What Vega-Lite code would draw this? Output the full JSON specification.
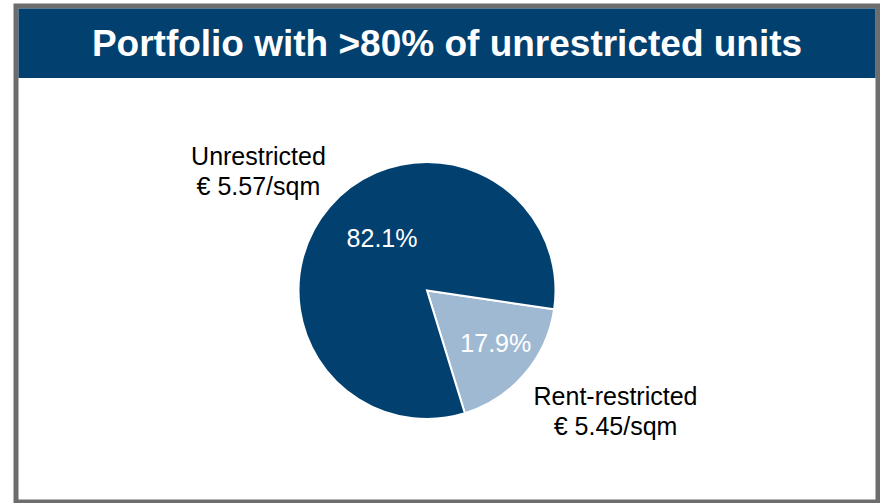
{
  "$schema": "https://vega.github.io/schema/vega-lite/v6.json",
  "width": 880,
  "height": 503,
  "autosize": {"type": "fit", "contains": "padding"},
  "padding": {"left": 16, "top": 6, "right": 2, "bottom": 1},
  "background": "white",
  "config": {
    "view": {"stroke": "#6d6d6d", "strokeWidth": 5},
    "font": "Liberation Sans"
  },
  "data": {
    "values": [
      {"segment": "Rent-restricted", "share": 0.179, "order": 1, "label": "Rent-restricted\n€ 5.45/sqm"},
      {"segment": "Unrestricted", "share": 0.821, "order": 2, "label": "Unrestricted\n€ 5.57/sqm"}
    ]
  },
  "layer": [
    {
      "data": {"values": [{}]},
      "mark": {"type": "rect", "color": "#01406f"},
      "encoding": {
        "x": {"value": 2.5},
        "x2": {"value": {"expr": "width - 2.5"}},
        "y": {"value": 2.5},
        "y2": {"value": 72}
      }
    },
    {
      "data": {"values": [{}]},
      "mark": {"type": "text", "fontSize": 37, "fontWeight": "bold", "color": "white", "align": "center", "baseline": "alphabetic", "font": "Liberation Sans"},
      "encoding": {
        "y": {"value": 50},
        "text": {"value": "Portfolio with >80% of unrestricted units"}
      }
    },
    {
      "mark": {"type": "arc", "outerRadius": 128.5, "stroke": "white", "strokeWidth": 2, "xOffset": -20, "yOffset": 36.5},
      "encoding": {
        "theta": {"field": "share", "type": "quantitative", "stack": true, "scale": {"range": [1.718, 8.001]}},
        "color": {"field": "segment", "type": "nominal", "scale": {"domain": ["Unrestricted", "Rent-restricted"], "range": ["#01406f", "#a0b9d3"]}, "legend": null},
        "order": {"field": "order", "type": "quantitative"}
      }
    },
    {
      "mark": {"type": "text", "radius": 68, "fontSize": 25, "color": "white", "align": "center", "baseline": "middle", "xOffset": -20, "yOffset": 36.5, "dx": 6.6, "dy": -7.5},
      "encoding": {
        "theta": {"field": "share", "type": "quantitative", "stack": true},
        "detail": {"field": "segment", "type": "nominal"},
        "order": {"field": "order", "type": "quantitative"},
        "text": {"condition": {"test": "datum.segment === 'Unrestricted'", "field": "share", "type": "quantitative", "format": ".1%"}, "value": ""}
      }
    },
    {
      "mark": {"type": "text", "radius": 87, "fontSize": 25, "color": "white", "align": "center", "baseline": "middle", "xOffset": -20, "yOffset": 36.5, "dx": 2.8, "dy": -3.5},
      "encoding": {
        "theta": {"field": "share", "type": "quantitative", "stack": true},
        "detail": {"field": "segment", "type": "nominal"},
        "order": {"field": "order", "type": "quantitative"},
        "text": {"condition": {"test": "datum.segment === 'Rent-restricted'", "field": "share", "type": "quantitative", "format": ".1%"}, "value": ""}
      }
    },
    {
      "mark": {"type": "text", "radius": 205, "fontSize": 25, "color": "black", "align": "center", "baseline": "middle", "lineBreak": "\n", "lineHeight": 30, "xOffset": -20, "yOffset": 36.5, "dx": -13, "dy": 0},
      "encoding": {
        "theta": {"field": "share", "type": "quantitative", "stack": true},
        "detail": {"field": "segment", "type": "nominal"},
        "order": {"field": "order", "type": "quantitative"},
        "text": {"condition": {"test": "datum.segment === 'Unrestricted'", "field": "label"}, "value": ""}
      }
    },
    {
      "mark": {"type": "text", "radius": 205, "fontSize": 25, "color": "black", "align": "center", "baseline": "middle", "lineBreak": "\n", "lineHeight": 30, "xOffset": -20, "yOffset": 36.5, "dx": 33, "dy": -27},
      "encoding": {
        "theta": {"field": "share", "type": "quantitative", "stack": true},
        "detail": {"field": "segment", "type": "nominal"},
        "order": {"field": "order", "type": "quantitative"},
        "text": {"condition": {"test": "datum.segment === 'Rent-restricted'", "field": "label"}, "value": ""}
      }
    }
  ]
}
